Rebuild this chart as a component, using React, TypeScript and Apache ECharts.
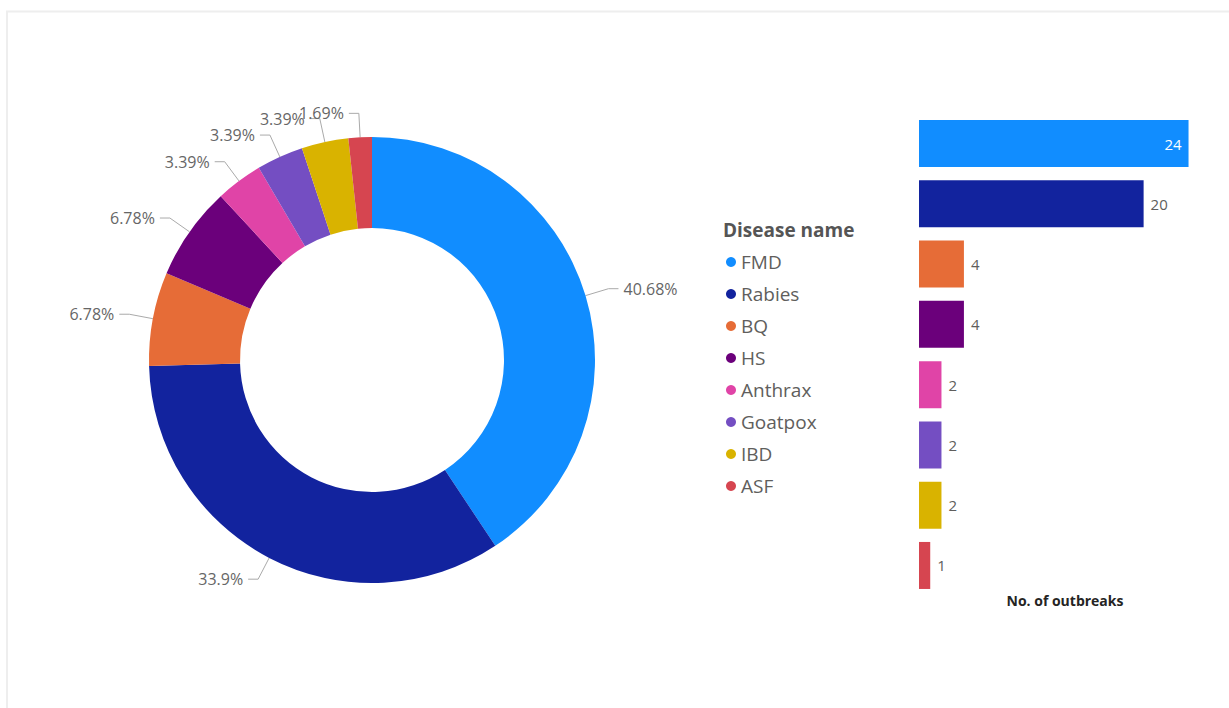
import React, { useEffect, useRef } from "react";
import * as echarts from "echarts";

const diseases = ["FMD", "Rabies", "BQ", "HS", "Anthrax", "Goatpox", "IBD", "ASF"];
const outbreaks = [24, 20, 4, 4, 2, 2, 2, 1];
const colors = ["#118DFF", "#12239E", "#E66C37", "#6B007B", "#E044A7", "#744EC2", "#D9B300", "#D64550"];
const legendTitle = "Disease name";
const barAxisTitle = "No. of outbreaks";

const FONT = "'Segoe UI', 'Open Sans', 'Noto Sans', sans-serif";

export default function App() {
  const ref = useRef<HTMLDivElement>(null);

  useEffect(() => {
    if (!ref.current) return;
    const chart = echarts.init(ref.current, undefined, { renderer: "svg" });
    const maxVal = Math.max(...outbreaks);

    const option: any = {
      animation: false,
      backgroundColor: "#ffffff",
      textStyle: { fontFamily: FONT },
      graphic: [
        {
          type: "rect",
          shape: { x: 7, y: 11.5, width: 1260, height: 740 },
          style: { fill: "none", stroke: "#eeeeee", lineWidth: 2 },
          silent: true,
        },
      ],
      title: {
        text: legendTitle,
        left: 723,
        top: 220,
        textStyle: { fontFamily: FONT, fontSize: 19, fontWeight: "bold", color: "#555555" },
        padding: 0,
      },
      legend: {
        orient: "vertical",
        left: 726,
        top: 252,
        icon: "circle",
        itemWidth: 10,
        itemHeight: 10,
        itemGap: 12,
        padding: 0,
        data: diseases,
        textStyle: { fontFamily: FONT, fontSize: 19, color: "#605E5C", lineHeight: 20 },
        selectedMode: false,
      },
      grid: { left: 919, top: 113.4, width: 292, height: 482.2, containLabel: false },
      xAxis: {
        type: "value",
        min: 0,
        max: 26,
        axisLine: { show: false },
        axisTick: { show: false },
        axisLabel: { show: false },
        splitLine: { show: false },
        name: barAxisTitle,
        nameLocation: "middle",
        nameGap: -2,
        nameTextStyle: { fontFamily: FONT, fontSize: 14, fontWeight: "bold", color: "#252423" },
      },
      yAxis: {
        type: "category",
        inverse: true,
        data: diseases,
        axisLine: { show: false },
        axisTick: { show: false },
        axisLabel: { show: false },
        splitLine: { show: false },
      },
      series: [
        {
          type: "pie",
          name: legendTitle,
          center: [372, 360],
          radius: [132, 223],
          startAngle: 90,
          clockwise: true,
          avoidLabelOverlap: false,
          labelLayout: { hideOverlap: false },
          data: diseases.map((d, i) => ({ name: d, value: outbreaks[i], itemStyle: { color: colors[i] } })),
          label: {
            show: true,
            formatter: (p: any) => `${p.percent}%`,
            fontFamily: FONT,
            fontSize: 16,
            color: "#666666",
          },
          labelLine: {
            show: true,
            length: 24,
            length2: 10,
            lineStyle: { color: "#aaaaaa", width: 1 },
          },
          emphasis: { disabled: true },
        },
        {
          type: "bar",
          name: barAxisTitle,
          barCategoryGap: "22%",
          data: outbreaks.map((v, i) => ({
            value: v,
            itemStyle: { color: colors[i] },
            label:
              v === maxVal
                ? { position: "insideRight", color: "#ffffff", distance: 7 }
                : { position: "right", color: "#605E5C", distance: 7 },
          })),
          label: { show: true, fontFamily: FONT, fontSize: 15 },
          emphasis: { disabled: true },
        },
      ],
    };

    chart.setOption(option);
    return () => chart.dispose();
  }, []);

  return (
    <div
      ref={ref}
      style={{ position: "absolute", left: 0, top: 0, width: 1229, height: 708 }}
    />
  );
}
